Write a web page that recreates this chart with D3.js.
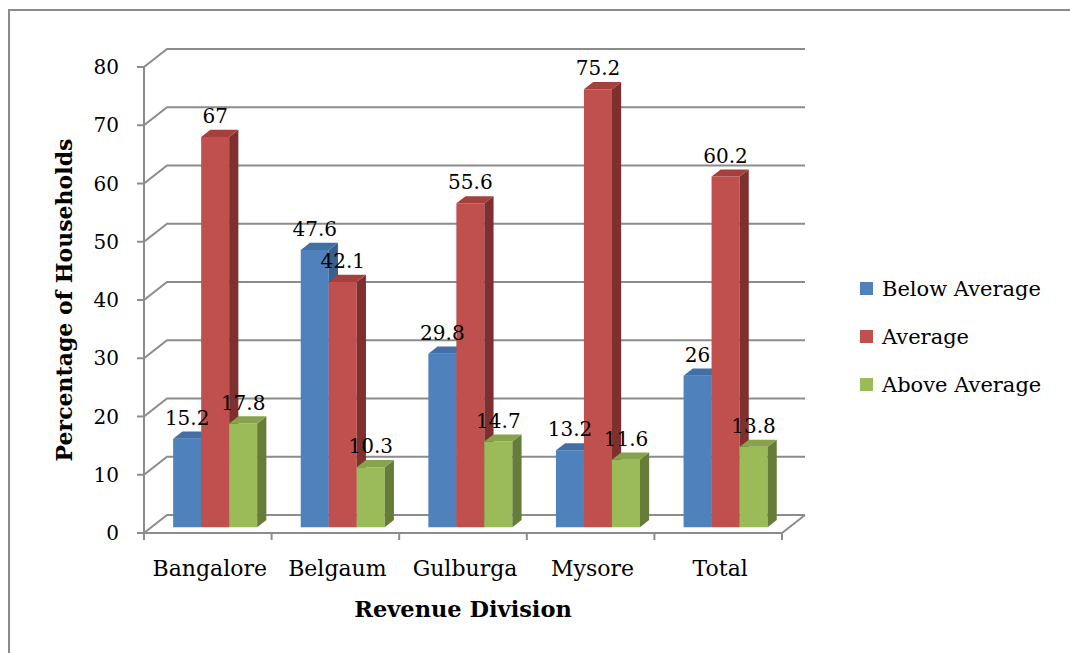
<!DOCTYPE html>
<html>
<head>
<meta charset="utf-8">
<script src="https://cdn.jsdelivr.net/npm/d3@7"></script>
<style>
  body { margin: 0; background: #fff; }
  text { font-family: "DejaVu Serif", "Liberation Serif", serif; fill: #000; }
</style>
</head>
<body>
<script>
// chart data
var divisions = ["Bangalore", "Belgaum", "Gulburga", "Mysore", "Total"];
var seriesNames = ["Below Average", "Average", "Above Average"];
var belowAvg = [15.2, 47.6, 29.8, 13.2, 26];
var average = [67, 42.1, 55.6, 75.2, 60.2];
var aboveAvg = [17.8, 10.3, 14.7, 11.6, 13.8];
var yTicks = [0, 10, 20, 30, 40, 50, 60, 70, 80];

var seriesValues = [belowAvg, average, aboveAvg];
var colors = ["#4F81BD", "#C0504D", "#9BBB59"];
var sideColors = ["#395F8E", "#7E302E", "#667D3A"];
var topColors = ["#426FA5", "#A5403D", "#87A34B"];

var w = 1070, h = 653;

// front plane of the plot
var x0 = 144, x1 = 782;
var depth = [23, -18];   // oblique depth vector of the floor

var x = d3.scaleBand()
    .domain(divisions)
    .range([x0, x1]);

var y = d3.scaleLinear()
    .domain([0, 80])
    .range([533, 67]);

var svg = d3.select("body")
    .append("svg")
    .attr("width", w)
    .attr("height", h);

// outer frame
svg.append("rect")
    .attr("x", 9).attr("y", 10)
    .attr("width", w + 20).attr("height", h + 20)
    .attr("fill", "none")
    .attr("stroke", "#8c8c8c")
    .attr("stroke-width", 2);

var gridColor = "#8c8c8c";

//gridlines: side wall diagonal + back wall line
var grid = svg.append("g");
yTicks.forEach(function (v) {
    grid.append("path")
        .attr("d", "M" + x0 + "," + y(v) +
            "L" + (x0 + depth[0]) + "," + (y(v) + depth[1]) +
            "L" + (x1 + depth[0]) + "," + (y(v) + depth[1]))
        .attr("fill", "none")
        .attr("stroke", gridColor)
        .attr("stroke-width", 2);
});

// floor front edge and right edge
grid.append("path")
    .attr("d", "M" + x0 + "," + y(0) + "L" + x1 + "," + y(0) +
        "L" + (x1 + depth[0]) + "," + (y(0) + depth[1]))
    .attr("fill", "none")
    .attr("stroke", gridColor)
    .attr("stroke-width", 2);

// y axis line and ticks
grid.append("line")
    .attr("x1", x0).attr("x2", x0)
    .attr("y1", y(0)).attr("y2", y(80))
    .attr("stroke", gridColor)
    .attr("stroke-width", 2);

grid.selectAll(".ytick")
    .data(yTicks)
    .enter()
    .append("line")
    .attr("x1", x0 - 7).attr("x2", x0)
    .attr("y1", function (d) { return y(d); })
    .attr("y2", function (d) { return y(d); })
    .attr("stroke", gridColor)
    .attr("stroke-width", 2);

// x ticks at category boundaries
var bounds = divisions.map(function (d) { return x(d); }).concat([x1]);
grid.selectAll(".xtick")
    .data(bounds)
    .enter()
    .append("line")
    .attr("x1", function (d) { return d; })
    .attr("x2", function (d) { return d; })
    .attr("y1", y(0)).attr("y2", y(0) + 7)
    .attr("stroke", gridColor)
    .attr("stroke-width", 2);

// y tick labels
svg.append("g")
    .selectAll("text")
    .data(yTicks)
    .enter()
    .append("text")
    .attr("x", 119)
    .attr("y", function (d) { return y(d) + 7; })
    .attr("text-anchor", "end")
    .style("font-size", "20px")
    .text(function (d) { return d; });

// category labels
svg.append("g")
    .selectAll("text")
    .data(divisions)
    .enter()
    .append("text")
    .attr("x", function (d) { return x(d) + x.bandwidth() / 2 + 2; })
    .attr("y", 576)
    .attr("text-anchor", "middle")
    .style("font-size", "22px")
    .text(function (d) { return d; });

// axis titles
svg.append("text")
    .attr("x", 463)
    .attr("y", 617)
    .attr("text-anchor", "middle")
    .style("font-size", "22.5px")
    .style("font-weight", "bold")
    .text("Revenue Division");

svg.append("text")
    .attr("transform", "translate(72,300) rotate(-90)")
    .attr("text-anchor", "middle")
    .style("font-size", "22px")
    .style("font-weight", "bold")
    .text("Percentage of Households");

// 3d bars
var barW = 28;
var zFront = 0.32, zBack = 0.72;
var fdx = depth[0] * zFront, fdy = depth[1] * zFront;
var bdx = depth[0] * (zBack - zFront), bdy = depth[1] * (zBack - zFront);

var bars = svg.append("g");
var labels = [];

divisions.forEach(function (div, i) {
    var groupLeft = x(div) + x.bandwidth() / 2 - barW * 1.5 + fdx;
    seriesValues.forEach(function (vals, s) {
        var v = vals[i];
        var lx = groupLeft + s * barW, rx = lx + barW;
        var by = y(0) + fdy, ty = y(v) + fdy;
        var g = bars.append("g");
        g.append("polygon")
            .attr("points", [[lx, by], [rx, by], [rx, ty], [lx, ty]].join(" "))
            .attr("fill", colors[s]);
        g.append("polygon")
            .attr("points", [[rx, by], [rx + bdx, by + bdy], [rx + bdx, ty + bdy], [rx, ty]].join(" "))
            .attr("fill", sideColors[s]);
        g.append("polygon")
            .attr("points", [[lx, ty], [rx, ty], [rx + bdx, ty + bdy], [lx + bdx, ty + bdy]].join(" "))
            .attr("fill", topColors[s]);
        labels.push({ x: lx + barW / 2, y: ty - 14, v: v });
    });
});

// data labels
svg.append("g")
    .selectAll("text")
    .data(labels)
    .enter()
    .append("text")
    .attr("x", function (d) { return d.x; })
    .attr("y", function (d) { return d.y; })
    .attr("text-anchor", "middle")
    .style("font-size", "20px")
    .text(function (d) { return d.v; });

// legend
var legend = svg.append("g")
    .attr("transform", "translate(860,282)");

legend.selectAll("rect")
    .data(seriesNames)
    .enter()
    .append("rect")
    .attr("x", 0)
    .attr("y", function (d, i) { return i * 48; })
    .attr("width", 13)
    .attr("height", 13)
    .attr("fill", function (d, i) { return colors[i]; });

legend.selectAll("text")
    .data(seriesNames)
    .enter()
    .append("text")
    .attr("x", 22)
    .attr("y", function (d, i) { return i * 48 + 14; })
    .style("font-size", "21px")
    .text(function (d) { return d; });
</script>
</body>
</html>
